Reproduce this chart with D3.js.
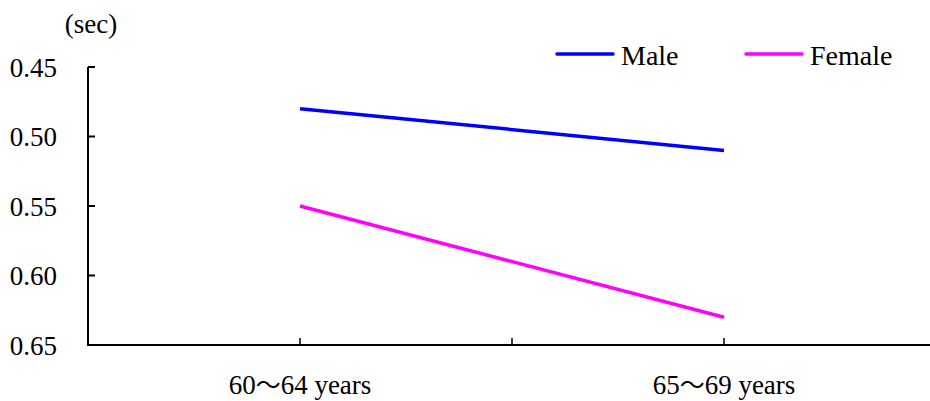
<!DOCTYPE html>
<html>
<head>
<meta charset="utf-8">
<script src="https://cdn.jsdelivr.net/npm/d3@7"></script>
<style>
  html, body { margin: 0; padding: 0; background: #fff; }
  svg { display: block; }
</style>
</head>
<body>
<svg id="chart" width="930" height="401"></svg>
<script>
// Reaction time by age group (seconds)
const categories = ["60～64 years", "65～69 years"];
const maleValues = [0.48, 0.51];
const femaleValues = [0.55, 0.63];
const seriesNames = ["Male", "Female"];
const seriesColors = ["#0000FF", "#FF00FF"];
const yTicks = [0.45, 0.50, 0.55, 0.60, 0.65];
const yUnit = "(sec)";

const serif = "'Liberation Serif', 'DejaVu Serif', 'Times New Roman', serif";
const cjk = "'Noto Sans CJK JP', 'Noto Sans CJK SC', sans-serif";

const svg = d3.select("#chart")
  .attr("font-family", serif).attr("fill", "#000");
const plotLeft = 88, plotRight = 936, plotTop = 67, plotBottom = 345;

// Category positions sit at the band centres
const x = d3.scalePoint().domain(categories).range([plotLeft, plotRight]).padding(0.5);
const y = d3.scaleLinear().domain([0.45, 0.65]).range([plotTop, plotBottom]);

// Minor category dividers: halfway points across the axis
const step = (plotRight - plotLeft) / (categories.length * 2);
const xTickPos = d3.range(1, categories.length * 2).map(i => plotLeft + i * step);

const fontSize = 27;
const legendFontSize = 28;

// Y axis
const yAxis = svg.append("g").attr("transform", `translate(${plotLeft},0)`);
yAxis.append("line").attr("x1", 0).attr("x2", 0).attr("y1", plotTop).attr("y2", plotBottom)
  .attr("stroke", "#000").attr("stroke-width", 2);
yAxis.selectAll("line.tick").data(yTicks).join("line").attr("class", "tick")
  .attr("x1", 0).attr("x2", 7).attr("y1", d => y(d)).attr("y2", d => y(d))
  .attr("stroke", "#000").attr("stroke-width", 2);
yAxis.selectAll("text").data(yTicks).join("text")
  .attr("x", -31).attr("y", d => y(d) + 9.5)
  .attr("text-anchor", "end").attr("font-family", serif).style("font-size", fontSize + "px")
  .text(d => d3.format(".2f")(d));

svg.append("text").attr("x", 91).attr("y", 33)
  .attr("text-anchor", "middle").attr("font-family", serif)
  .style("font-size", fontSize + "px").text(yUnit);

// X axis
const xAxis = svg.append("g");
xAxis.append("line").attr("x1", plotLeft - 1).attr("x2", plotRight).attr("y1", plotBottom).attr("y2", plotBottom)
  .attr("stroke", "#000").attr("stroke-width", 2);
xAxis.selectAll("line.tick").data(xTickPos).join("line").attr("class", "tick")
  .attr("x1", d => d).attr("x2", d => d).attr("y1", plotBottom).attr("y2", plotBottom - 7)
  .attr("stroke", "#000").attr("stroke-width", 1.5);

// Category labels: the wave dash is set in a CJK face for its full width
const catLabels = xAxis.selectAll("text").data(categories).join("text")
  .attr("x", d => x(d)).attr("y", 394)
  .attr("text-anchor", "middle").attr("font-family", serif)
  .style("font-size", fontSize + "px");
catLabels.each(function(d) {
  const parts = d.split("～");
  const t = d3.select(this);
  t.append("tspan").text(parts[0]);
  t.append("tspan").attr("font-family", cjk).style("font-size", (fontSize - 2) + "px").text("～");
  t.append("tspan").text(parts[1]);
});

// Series lines
const series = [maleValues, femaleValues];
const line = d3.line().x((d, i) => x(categories[i])).y(d => y(d));
svg.selectAll("path.series").data(series).join("path").attr("class", "series")
  .attr("d", line).attr("fill", "none")
  .attr("stroke", (d, i) => seriesColors[i]).attr("stroke-width", 3.5)
  .attr("stroke-linecap", "butt");

// Legend
const legendX = [557, 746];
const lg = svg.selectAll("g.legend").data(seriesNames).join("g").attr("class", "legend")
  .attr("transform", (d, i) => `translate(${legendX[i]},54)`);
lg.append("line").attr("x1", 0).attr("x2", 56).attr("y1", 0).attr("y2", 0)
  .attr("stroke", (d, i) => seriesColors[i]).attr("stroke-width", 3.5).attr("stroke-linecap", "round");
lg.append("text").attr("x", 64).attr("y", 10.5)
  .attr("font-family", serif).style("font-size", legendFontSize + "px").text(d => d);
</script>
</body>
</html>
